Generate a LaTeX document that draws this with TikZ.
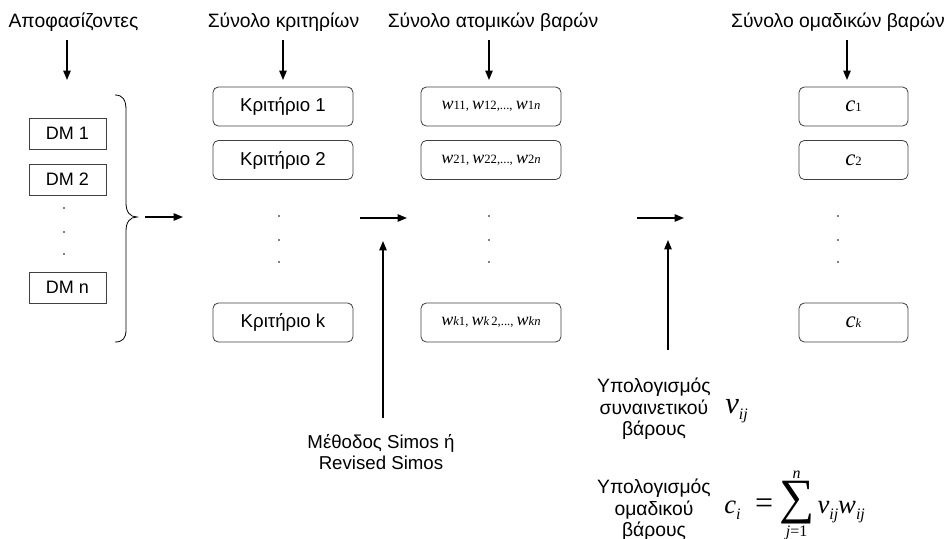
\documentclass[tikz,border=0pt]{standalone}
\usepackage{fontspec}
\setmainfont{Liberation Sans}
\newfontfamily\tnr{Liberation Serif}
\usetikzlibrary{arrows.meta}
% large italic letter and small index used in the weight boxes
\newcommand{\bigw}{{\tnr\fontsize{13.5}{15}\selectfont\itshape w}}
\newcommand{\bigc}{{\tnr\fontsize{17}{18}\selectfont\itshape c}}
\newcommand{\sm}[1]{{\tnr\fontsize{9.5}{11}\selectfont #1}}
\newcommand{\smi}[1]{{\tnr\fontsize{9.5}{11}\selectfont\itshape #1}}
% pieces of the formulas
\newcommand{\fl}[1]{\mbox{\tnr\fontsize{20}{22}\selectfont\itshape #1}}
\newcommand{\fs}[1]{\mbox{\raisebox{-5pt}{\tnr\fontsize{12}{13}\selectfont\itshape #1}}}
\newcommand{\sumlim}[1]{\mbox{\tnr\fontsize{12}{13}\selectfont #1}}
\begin{document}
\begin{tikzpicture}[x=0.75pt,y=-0.75pt,
  every node/.style={font=\fontsize{14.5}{17}\selectfont, inner sep=0pt},
  dmbox/.style={draw=black!75, line width=0.6pt, minimum width=57.75pt, minimum height=23.25pt, font=\fontsize{13.5}{16}\selectfont},
  rbox/.style={draw=black!75, line width=0.6pt, rounded corners=4pt, minimum width=105pt, minimum height=29.25pt, font=\fontsize{14}{16}\selectfont},
  cbox/.style={rbox, minimum width=81.75pt},
  arr/.style={line width=1.1pt, -{Triangle[length=7pt,width=5.5pt]}},
  note/.style={align=center, font=\fontsize{14.5}{16}\selectfont},
  dot/.style={fill=black}
]
\useasboundingbox (0,0) rectangle (947,539);

% column headings
\node (tdm) at (73.5,22) {Αποφασίζοντες};
\node (tcr) at (283.5,22) {Σύνολο κριτηρίων};
\node (tw)  at (493,22) {Σύνολο ατομικών βαρών};
\node (tc)  at (838,22) {Σύνολο ομαδικών βαρών};

% heading arrows
\coordinate (dmA) at (67,40);  \coordinate (dmB) at (67,80);
\coordinate (crA) at (283,40); \coordinate (crB) at (283,80);
\coordinate (wA)  at (489,40); \coordinate (wB)  at (489,80);
\coordinate (cA)  at (847,40); \coordinate (cB)  at (847,80);
\draw[arr] (dmA) -- (dmB);
\draw[arr] (crA) -- (crB);
\draw[arr] (wA) -- (wB);
\draw[arr] (cA) -- (cB);

% decision makers
\node[dmbox] (dm1) at (67.5,133.5) {DM 1};
\node[dmbox] (dm2) at (67.5,179.5) {DM 2};
\node[dmbox] (dmn) at (67.5,287.5) {DM n};
\foreach \y in {208,232,254} \fill[dot] (64,\y) circle (0.7pt);

% brace grouping the decision makers
\coordinate (br) at (137,217);
\draw[line width=0.6pt] (115,95) .. controls (123,95) and (126,100) .. (126,110)
  -- (126,203) .. controls (126,212) and (130,217) .. (br)
  .. controls (130,217) and (126,222) .. (126,231)
  -- (126,330) .. controls (126,338) and (123,342) .. (115,342);

% criteria
\node[rbox] (k1) at (283,106.5) {Κριτήριο 1};
\node[rbox] (k2) at (283,160) {Κριτήριο 2};
\node[rbox] (kk) at (283,322.5) {Κριτήριο k};
\foreach \y in {216,240,262} \fill[dot] (279,\y) circle (0.7pt);

% individual weights
\node[rbox] (w1) at (491,106.5) {\bigw\sm{11, }\bigw\sm{12,..., }\bigw\sm{1}\smi{n}};
\node[rbox] (w2) at (491,160) {\bigw\sm{21, }\bigw\sm{22,..., }\bigw\sm{2}\smi{n}};
\node[rbox] (wk) at (491,322.5) {\bigw\smi{k}\sm{1, }\bigw\smi{k\,}\sm{2,..., }\bigw\smi{kn}};
\foreach \y in {216,240,262} \fill[dot] (489,\y) circle (0.7pt);

% group weights
\node[cbox] (c1) at (853.5,106.5) {\bigc\sm{1}};
\node[cbox] (c2) at (853.5,160) {\bigc\sm{2}};
\node[cbox] (ck) at (853.5,322.5) {\bigc\smi{k}};
\foreach \y in {216,240,262} \fill[dot] (838,\y) circle (0.7pt);

% flow arrows
\coordinate (f1a) at (145,217); \coordinate (f1b) at (183,217);
\coordinate (f2a) at (360,218); \coordinate (f2b) at (407,218);
\coordinate (f3a) at (637,218); \coordinate (f3b) at (684,218);
\draw[arr] (f1a) -- (f1b);
\draw[arr] (f2a) -- (f2b);
\draw[arr] (f3a) -- (f3b);

% weighting method
\node[note, font=\fontsize{14}{16}\selectfont] (simos) at (381,452) {Μέθοδος Simos ή\\Revised Simos};
\coordinate (sA) at (383,418); \coordinate (sB) at (383,241);
\draw[arr] (sA) -- (sB);

\coordinate (gA) at (668,350); \coordinate (gB) at (668,240);
\draw[arr] (gA) -- (gB);

% aggregation formulas
\node[note] (vtxt) at (654,409) {Υπολογισμός\\συναινετικού\\βάρους};
\node[note] (ctxt) at (654,510) {Υπολογισμός\\ομαδικού\\βάρους};
\node[anchor=base west] (vform) at (725,413)
  {{\tnr\fontsize{23}{24}\selectfont\itshape v}\raisebox{-5pt}{\tnr\fontsize{12}{13}\selectfont\itshape ij}};
\node[anchor=base west] (cform) at (724,513)
  {$\fl{c}\fs{i}\hspace{11pt}\mbox{\tnr\fontsize{24}{24}\selectfont =}\hspace{2pt}
   \mathop{\mbox{\tnr\fontsize{37}{37}\selectfont ∑}}\limits^{\sumlim{\itshape n}}_{\sumlim{\itshape j\upshape =1}}
   \fl{v}\fs{ij}\fl{w}\fs{ij}$};
\end{tikzpicture}
\end{document}
